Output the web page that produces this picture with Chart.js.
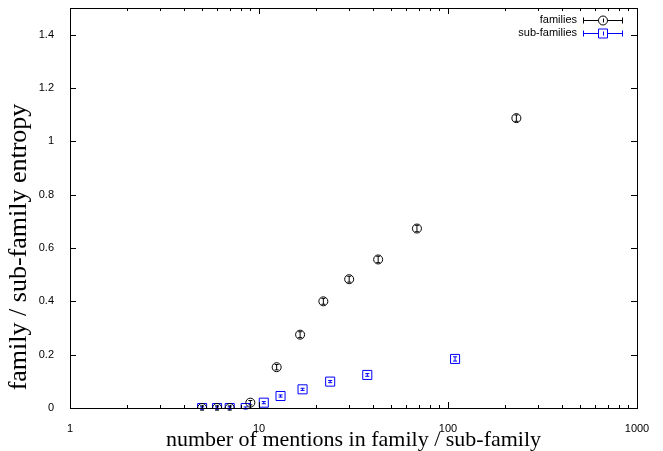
<!DOCTYPE html>
<html>
<head>
<meta charset="utf-8">
<script src="https://cdn.jsdelivr.net/npm/chart.js@4"></script>
<style>
  html, body { margin: 0; padding: 0; background: #fff; }
</style>
</head>
<body>
<canvas id="chart" width="663" height="451"></canvas>
<script>
// values
const familyMentions = [5, 6, 7, 9, 12.4, 16.5, 21.9, 30, 42.7, 68.5, 230];
const familyEntropy = [0, 0, 0, 0.02, 0.153, 0.275, 0.40, 0.483, 0.557, 0.673, 1.087];
const familyError = [0.008, 0.008, 0.008, 0.008, 0.01, 0.011, 0.011, 0.011, 0.012, 0.012, 0.012];

const subMentions = [5, 6, 7, 8.5, 10.6, 13, 17, 23.8, 37.4, 109];
const subEntropy = [0, 0, 0, 0, 0.02, 0.045, 0.07, 0.099, 0.124, 0.184];
const subError = [0.004, 0.004, 0.004, 0.004, 0.004, 0.004, 0.004, 0.004, 0.005, 0.008];

const xTicks = [1, 2, 3, 4, 5, 6, 7, 8, 9, 10, 20, 30, 40, 50, 60, 70, 80, 90,
  100, 200, 300, 400, 500, 600, 700, 800, 900, 1000];
const yTicks = [0, 0.2, 0.4, 0.6, 0.8, 1, 1.2, 1.4];

const xTitle = "number of mentions in family / sub-family";
const yTitle = "family / sub-family entropy";

const BLUE = "#0000ff";
const isPow10 = v => Math.abs(Math.log10(v) - Math.round(Math.log10(v))) < 1e-9;

const toPoints = (xs, ys) => xs.map((x, i) => ({ x: x, y: ys[i] }));

// gnuplot-like frame, inward ticks, error bars, key and axis titles
const gnuplotBits = {
  id: "gnuplotBits",
  beforeDatasetsDraw(chart) {
    const ctx = chart.ctx;
    const xs = chart.scales.x, ys = chart.scales.y;
    const bars = [
      [familyMentions, familyEntropy, familyError, "#000"],
      [subMentions, subEntropy, subError, BLUE]
    ];
    ctx.save();
    ctx.lineWidth = 1;
    bars.forEach(([mx, my, me, col]) => {
      ctx.strokeStyle = col;
      mx.forEach((m, i) => {
        const px = xs.getPixelForValue(m);
        const y1 = ys.getPixelForValue(my[i] - me[i]);
        const y2 = ys.getPixelForValue(my[i] + me[i]);
        ctx.beginPath();
        ctx.moveTo(px, y1); ctx.lineTo(px, y2);
        ctx.moveTo(px - 2, y1); ctx.lineTo(px + 2, y1);
        ctx.moveTo(px - 2, y2); ctx.lineTo(px + 2, y2);
        ctx.stroke();
      });
    });
    ctx.restore();
  },
  afterDraw(chart) {
    const ctx = chart.ctx;
    const a = chart.chartArea;
    const xs = chart.scales.x, ys = chart.scales.y;
    ctx.save();
    ctx.strokeStyle = "#000";
    ctx.lineWidth = 1;
    ctx.strokeRect(Math.round(a.left) + 0.5, Math.round(a.top) + 0.5,
      Math.round(a.right - a.left), Math.round(a.bottom - a.top));
    ctx.beginPath();
    xTicks.forEach(v => {
      const px = Math.round(xs.getPixelForValue(v)) + 0.5;
      const len = isPow10(v) ? 6 : 3;
      ctx.moveTo(px, a.bottom); ctx.lineTo(px, a.bottom - len);
      ctx.moveTo(px, a.top); ctx.lineTo(px, a.top + len);
    });
    yTicks.forEach(v => {
      const py = Math.round(ys.getPixelForValue(v)) + 0.5;
      ctx.moveTo(a.left, py); ctx.lineTo(a.left + 6, py);
      ctx.moveTo(a.right, py); ctx.lineTo(a.right - 6, py);
    });
    ctx.stroke();

    // axis titles
    ctx.fillStyle = "#000";
    ctx.textBaseline = "alphabetic";
    ctx.textAlign = "center";
    ctx.font = "22px 'Liberation Serif', 'Times New Roman', serif";
    ctx.fillText(xTitle, (a.left + a.right) / 2, 446);
    ctx.save();
    ctx.translate(26, 247);
    ctx.rotate(-Math.PI / 2);
    ctx.font = "26px 'Liberation Serif', 'Times New Roman', serif";
    ctx.fillText(yTitle, 0, 0);
    ctx.restore();

    // key
    ctx.font = "11px 'Liberation Sans', Arial, sans-serif";
    ctx.textAlign = "right";
    ctx.textBaseline = "middle";
    const keys = [
      ["families", "#000", "circle", 20],
      ["sub-families", BLUE, "rect", 33]
    ];
    keys.forEach(([label, col, style, ky]) => {
      ctx.fillStyle = "#000";
      ctx.fillText(label, 577, ky);
      ctx.strokeStyle = col;
      ctx.beginPath();
      ctx.moveTo(583, ky + 0.5); ctx.lineTo(623, ky + 0.5);
      ctx.moveTo(583.5, ky - 2.5); ctx.lineTo(583.5, ky + 3.5);
      ctx.moveTo(622.5, ky - 2.5); ctx.lineTo(622.5, ky + 3.5);
      ctx.stroke();
      ctx.beginPath();
      if (style === "circle") {
        ctx.arc(603, ky + 0.5, 4.5, 0, Math.PI * 2);
      } else {
        ctx.rect(598.5, ky - 4, 9, 9);
      }
      ctx.fillStyle = "#fff";
      ctx.fill();
      ctx.stroke();
      ctx.beginPath();
      ctx.moveTo(603.5, ky - 1.5); ctx.lineTo(603.5, ky + 2.5);
      ctx.stroke();
    });
    ctx.restore();
  }
};

const tickFont = { family: "'Liberation Sans', Arial, sans-serif", size: 11 };

new Chart(document.getElementById("chart"), {
  type: "scatter",
  data: {
    datasets: [
      {
        label: "families",
        data: toPoints(familyMentions, familyEntropy),
        pointStyle: "circle",
        pointRadius: 4.5,
        pointHoverRadius: 4.5,
        borderColor: "#000",
        backgroundColor: "rgba(0,0,0,0)",
        borderWidth: 1
      },
      {
        label: "sub-families",
        data: toPoints(subMentions, subEntropy),
        pointStyle: "rect",
        pointRadius: 6.4,
        pointHoverRadius: 6.4,
        borderColor: BLUE,
        backgroundColor: "rgba(0,0,0,0)",
        borderWidth: 1
      }
    ]
  },
  options: {
    responsive: false,
    animation: false,
    devicePixelRatio: 1,
    layout: { padding: { left: 0, right: 26, top: 8, bottom: 0 } },
    plugins: {
      legend: { display: false },
      tooltip: { enabled: false }
    },
    scales: {
      x: {
        type: "logarithmic",
        min: 1,
        max: 1000,
        grid: { display: false },
        border: { display: false },
        afterBuildTicks: s => { s.ticks = xTicks.map(v => ({ value: v })); },
        afterFit: s => { s.height = 43; s.paddingLeft = 0; s.paddingRight = 0; },
        ticks: {
          autoSkip: false,
          maxRotation: 0,
          padding: 6,
          color: "#000",
          font: tickFont,
          callback: v => (isPow10(v) ? String(v) : "")
        }
      },
      y: {
        min: 0,
        max: 1.5,
        grid: { display: false },
        border: { display: false },
        afterBuildTicks: s => { s.ticks = yTicks.map(v => ({ value: v })); },
        afterFit: s => { s.width = 70; s.paddingTop = 0; s.paddingBottom = 0; },
        ticks: {
          padding: 8,
          color: "#000",
          font: tickFont,
          callback: v => String(Math.round(v * 10) / 10)
        }
      }
    }
  },
  plugins: [gnuplotBits]
});
</script>
</body>
</html>
